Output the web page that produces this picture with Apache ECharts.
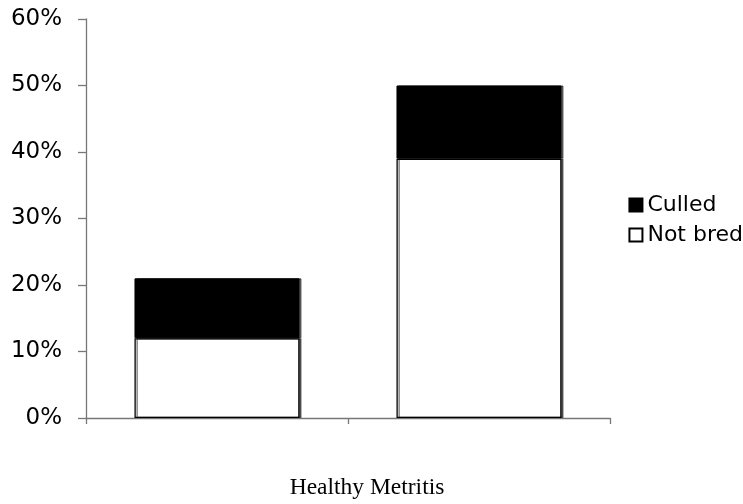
<!DOCTYPE html>
<html>
<head>
<meta charset="utf-8">
<script src="https://cdn.jsdelivr.net/npm/echarts@6/dist/echarts.min.js"></script>
<style>
  html, body { margin: 0; padding: 0; background: #fff; }
  #chart { width: 743px; height: 504px; }
</style>
</head>
<body>
<div id="chart"></div>
<script>
// Share of cows by health group (percent)
var categories = ['Healthy', 'Metritis'];
var notBred = [12, 39];
var culled = [9, 11];
var yTicks = [0, 10, 20, 30, 40, 50, 60];

var chart = echarts.init(document.getElementById('chart'), null, { renderer: 'canvas' });

var barShadow = {
  shadowColor: 'rgba(0,0,0,0.55)',
  shadowOffsetX: 2,
  shadowOffsetY: 0,
  shadowBlur: 0
};

chart.setOption({
  animation: false,
  backgroundColor: '#ffffff',
  grid: { left: 86, right: 133, top: 19, bottom: 86, containLabel: false, outerBoundsMode: 'none' },
  legend: {
    orient: 'vertical',
    right: 0,
    top: 194,
    padding: 0,
    itemWidth: 13,
    itemHeight: 13,
    itemGap: 8,
    icon: 'rect',
    selectedMode: false,
    data: ['Culled', 'Not bred'],
    textStyle: { fontFamily: 'DejaVu Sans', fontSize: 22, color: '#000' }
  },
  xAxis: {
    type: 'category',
    data: categories,
    name: categories.join(' '),
    nameLocation: 'middle',
    nameGap: 58,
    nameTextStyle: {
      fontFamily: 'Liberation Serif',
      fontSize: 23.5,
      color: '#000',
      padding: [0, 0, 0, 38]
    },
    axisLine: { lineStyle: { color: '#777', width: 1.3 } },
    axisTick: { show: true, length: 6, alignWithLabel: false, lineStyle: { color: '#777', width: 1.3 } },
    axisLabel: { show: false }
  },
  yAxis: {
    type: 'value',
    min: yTicks[0],
    max: yTicks[yTicks.length - 1],
    interval: 10,
    axisLine: { show: true, lineStyle: { color: '#777', width: 1.3 } },
    axisTick: { show: true, length: 8, lineStyle: { color: '#777', width: 1.3 } },
    splitLine: { show: false },
    axisLabel: {
      fontFamily: 'DejaVu Sans',
      fontSize: 23,
      color: '#000',
      margin: 24,
      formatter: function (v) { return v + '%'; }
    }
  },
  series: [
    {
      name: 'Not bred',
      type: 'bar',
      stack: 'total',
      barWidth: '63%',
      data: notBred,
      itemStyle: Object.assign({ color: '#ffffff', borderColor: '#000', borderWidth: 1.3 }, barShadow)
    },
    {
      name: 'Culled',
      type: 'bar',
      stack: 'total',
      barWidth: '63%',
      data: culled,
      itemStyle: Object.assign({ color: '#000000', borderColor: '#000', borderWidth: 1 }, barShadow)
    }
  ]
});
</script>
</body>
</html>
